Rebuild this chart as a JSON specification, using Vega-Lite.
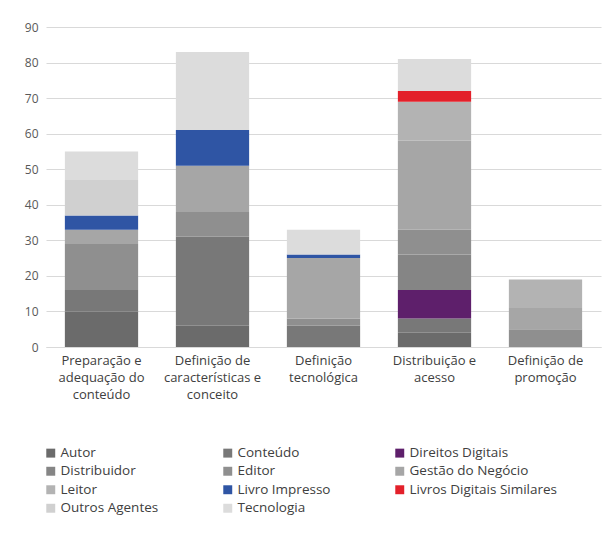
{
  "$schema": "https://vega.github.io/schema/vega-lite/v6.json",
  "autosize": "none",
  "width": 555,
  "height": 320,
  "padding": {"left": 46, "top": 27, "right": 3, "bottom": 186},
  "background": "white",
  "config": {
    "font": "Open Sans",
    "view": {"stroke": null}
  },
  "data": {
    "values": [
      {"cat": "Preparação e|adequação do|conteúdo", "series": "Autor", "k": 1, "value": 10},
      {"cat": "Preparação e|adequação do|conteúdo", "series": "Conteúdo", "k": 2, "value": 6},
      {"cat": "Preparação e|adequação do|conteúdo", "series": "Editor", "k": 5, "value": 13},
      {"cat": "Preparação e|adequação do|conteúdo", "series": "Gestão do Negócio", "k": 6, "value": 4},
      {"cat": "Preparação e|adequação do|conteúdo", "series": "Livro Impresso", "k": 8, "value": 4},
      {"cat": "Preparação e|adequação do|conteúdo", "series": "Outros Agentes", "k": 10, "value": 10},
      {"cat": "Preparação e|adequação do|conteúdo", "series": "Tecnologia", "k": 11, "value": 8},

      {"cat": "Definição de|características e|conceito", "series": "Autor", "k": 1, "value": 6},
      {"cat": "Definição de|características e|conceito", "series": "Conteúdo", "k": 2, "value": 25},
      {"cat": "Definição de|características e|conceito", "series": "Editor", "k": 5, "value": 7},
      {"cat": "Definição de|características e|conceito", "series": "Gestão do Negócio", "k": 6, "value": 13},
      {"cat": "Definição de|características e|conceito", "series": "Livro Impresso", "k": 8, "value": 10},
      {"cat": "Definição de|características e|conceito", "series": "Tecnologia", "k": 11, "value": 22},

      {"cat": "Definição|tecnológica", "series": "Conteúdo", "k": 2, "value": 6},
      {"cat": "Definição|tecnológica", "series": "Editor", "k": 5, "value": 2},
      {"cat": "Definição|tecnológica", "series": "Gestão do Negócio", "k": 6, "value": 17},
      {"cat": "Definição|tecnológica", "series": "Livro Impresso", "k": 8, "value": 1},
      {"cat": "Definição|tecnológica", "series": "Tecnologia", "k": 11, "value": 7},

      {"cat": "Distribuição e|acesso", "series": "Autor", "k": 1, "value": 4},
      {"cat": "Distribuição e|acesso", "series": "Conteúdo", "k": 2, "value": 4},
      {"cat": "Distribuição e|acesso", "series": "Direitos Digitais", "k": 3, "value": 8},
      {"cat": "Distribuição e|acesso", "series": "Distribuidor", "k": 4, "value": 10},
      {"cat": "Distribuição e|acesso", "series": "Editor", "k": 5, "value": 7},
      {"cat": "Distribuição e|acesso", "series": "Gestão do Negócio", "k": 6, "value": 25},
      {"cat": "Distribuição e|acesso", "series": "Leitor", "k": 7, "value": 11},
      {"cat": "Distribuição e|acesso", "series": "Livros Digitais Similares", "k": 9, "value": 3},
      {"cat": "Distribuição e|acesso", "series": "Tecnologia", "k": 11, "value": 9},

      {"cat": "Definição de|promoção", "series": "Editor", "k": 5, "value": 5},
      {"cat": "Definição de|promoção", "series": "Gestão do Negócio", "k": 6, "value": 6},
      {"cat": "Definição de|promoção", "series": "Leitor", "k": 7, "value": 8}
    ]
  },
  "mark": {"type": "bar"},
  "encoding": {
    "x": {
      "field": "cat",
      "type": "nominal",
      "sort": null,
      "scale": {"paddingInner": 0.34, "paddingOuter": 0.17},
      "axis": {
        "title": null,
        "labelAngle": 0,
        "labelExpr": "split(datum.label, '|')",
        "labelFontSize": 13,
        "labelLineHeight": 17,
        "labelColor": "#404040",
        "labelPadding": 7,
        "labelBaseline": "top",
        "domainColor": "#d9d9d9",
        "ticks": false
      }
    },
    "y": {
      "field": "value",
      "type": "quantitative",
      "aggregate": "sum",
      "stack": "zero",
      "scale": {"domain": [0, 90], "nice": false},
      "axis": {
        "title": null,
        "values": [0, 10, 20, 30, 40, 50, 60, 70, 80, 90],
        "domain": false,
        "ticks": false,
        "labelFontSize": 12,
        "labelColor": "#595959",
        "labelPadding": 8,
        "gridColor": "#d9d9d9"
      }
    },
    "order": {"field": "k", "type": "quantitative", "sort": "ascending"},
    "color": {
      "field": "series",
      "type": "nominal",
      "scale": {
        "domain": ["Autor", "Conteúdo", "Direitos Digitais", "Distribuidor", "Editor", "Gestão do Negócio", "Leitor", "Livro Impresso", "Livros Digitais Similares", "Outros Agentes", "Tecnologia"],
        "range": ["#6b6b6b", "#787878", "#5e1f6b", "#858585", "#8f8f8f", "#a6a6a6", "#b3b3b3", "#2f55a4", "#e3202a", "#d0d0d0", "#dcdcdc"]
      },
      "legend": {
        "title": null,
        "orient": "none",
        "legendX": -2,
        "legendY": 419,
        "direction": "horizontal",
        "columns": 3,
        "symbolType": "square",
        "symbolSize": 80,
        "symbolStrokeWidth": 0,
        "labelFontSize": 13.5,
        "labelColor": "#404040",
        "labelOffset": 3,
        "rowPadding": 3.5,
        "columnPadding": 62,
        "labelLimit": 200
      }
    }
  }
}
